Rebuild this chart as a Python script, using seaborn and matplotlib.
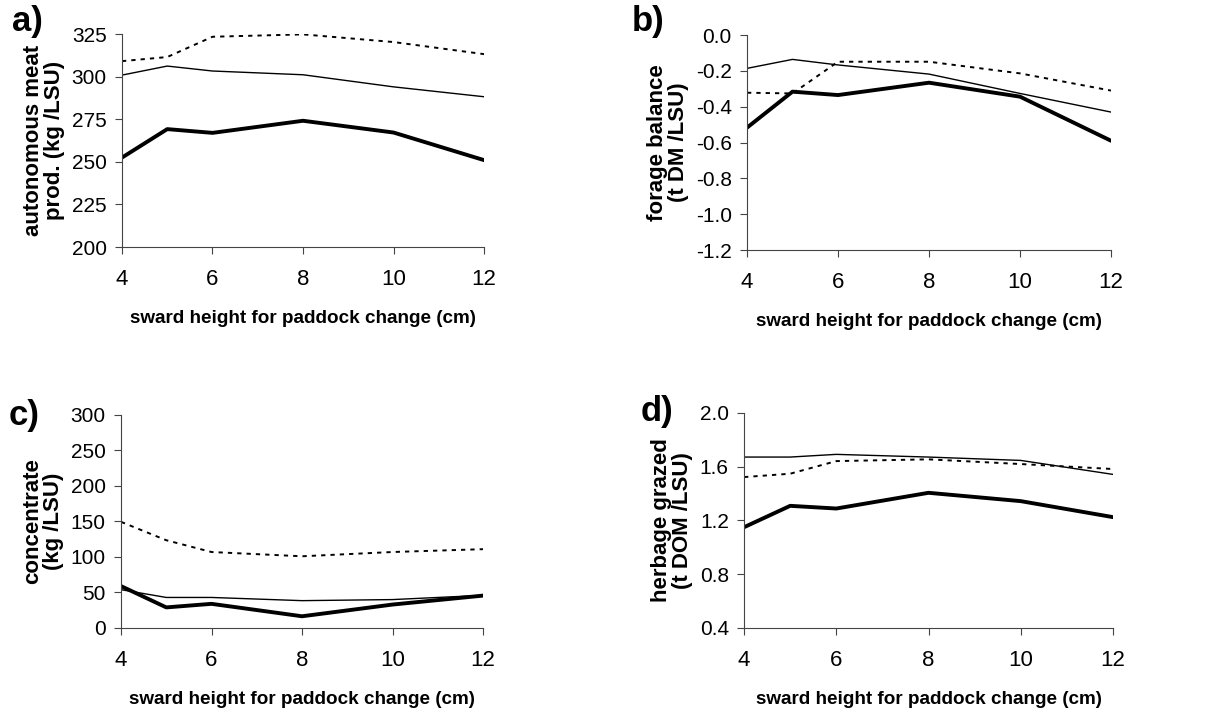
import matplotlib
matplotlib.use('Agg')
import matplotlib.pyplot as plt
import seaborn as sns
import pandas as pd

sns.set_style('ticks')
plt.rcParams['font.family'] = ['Liberation Sans', 'DejaVu Sans']
plt.rcParams['text.color'] = 'black'
plt.rcParams['axes.labelcolor'] = 'black'
plt.rcParams['xtick.labelcolor'] = 'black'
plt.rcParams['ytick.labelcolor'] = 'black'

# --- Data ---
sward_height = [4, 5, 6, 8, 10, 12]

meat_thick = [252.5, 269.2, 267.0, 274.1, 267.2, 251.0]
meat_thin = [300.9, 306.2, 303.3, 301.1, 294.0, 288.2]
meat_dotted = [309.1, 311.5, 323.4, 324.8, 320.3, 313.2]

forage_thick = [-0.517, -0.316, -0.335, -0.266, -0.344, -0.59]
forage_thin = [-0.186, -0.136, -0.167, -0.218, -0.326, -0.43]
forage_dotted = [-0.322, -0.326, -0.149, -0.149, -0.214, -0.31]

conc_thick = [59, 29, 34, 16.5, 33, 45.6]
conc_thin = [54, 43, 43, 38.5, 40, 46]
conc_dotted = [149.5, 123.6, 107, 101, 107, 111]

herb_thick = [1.15, 1.309, 1.289, 1.406, 1.344, 1.225]
herb_thin = [1.672, 1.672, 1.692, 1.672, 1.647, 1.543]
herb_dotted = [1.523, 1.548, 1.642, 1.655, 1.62, 1.583]

x_ticks = [4, 6, 8, 10, 12]
xlabel = 'sward height for paddock change (cm)'

panels = [
    ('a)', 'autonomous meat\nprod. (kg /LSU)', meat_thick, meat_thin, meat_dotted,
     (200, 325), [200, 225, 250, 275, 300, 325], '%d'),
    ('b)', 'forage balance\n(t DM /LSU)', forage_thick, forage_thin, forage_dotted,
     (-1.2, 0.0), [-1.2, -1.0, -0.8, -0.6, -0.4, -0.2, 0.0], '%.1f'),
    ('c)', 'concentrate\n(kg /LSU)', conc_thick, conc_thin, conc_dotted,
     (0, 300), [0, 50, 100, 150, 200, 250, 300], '%d'),
    ('d)', 'herbage grazed\n(t DOM /LSU)', herb_thick, herb_thin, herb_dotted,
     (0.4, 2.0), [0.4, 0.8, 1.2, 1.6, 2.0], '%.1f'),
]

# axes rectangles in figure fractions
rects = [
    [0.0995, 0.6545, 0.2953, 0.2979],
    [0.6093, 0.6503, 0.2969, 0.3007],
    [0.0987, 0.1217, 0.2953, 0.2979],
    [0.6069, 0.1217, 0.3009, 0.3007],
]
# panel letter centres (pixels from top-left)
tag_pos = [(27, 22), (648, 22), (24, 415), (657, 411)]

W, H = 1226, 715
fig = plt.figure(figsize=(W / 100, H / 100), dpi=100)

for rect, tp, (tag, ylabel, thick, thin, dotted, ylim, yticks, fmt) in zip(rects, tag_pos, panels):
    ax = fig.add_axes(rect)
    df = pd.DataFrame({'x': sward_height, 'thick': thick, 'thin': thin, 'dotted': dotted})
    sns.lineplot(data=df, x='x', y='dotted', ax=ax, color='black', lw=1.4,
                 linestyle=(0, (2.2, 2.6)))
    sns.lineplot(data=df, x='x', y='thin', ax=ax, color='black', lw=1.0)
    sns.lineplot(data=df, x='x', y='thick', ax=ax, color='black', lw=2.8)

    ax.set_xlim(4, 12)
    ax.set_ylim(*ylim)
    ax.set_xticks(x_ticks)
    ax.set_yticks(yticks)
    ax.set_yticklabels([fmt % v for v in yticks])
    ax.tick_params(axis='both', length=5, width=0.8, color='#444444')
    ax.tick_params(axis='x', labelsize=16, pad=11)
    ax.tick_params(axis='y', labelsize=15, pad=6)
    for s in ['left', 'bottom']:
        ax.spines[s].set_linewidth(0.8)
        ax.spines[s].set_color('#444444')
    sns.despine(ax=ax)
    ax.set_xlabel(xlabel, fontsize=13.6, fontweight='bold', labelpad=14)
    ax.set_ylabel(ylabel, fontsize=16, fontweight='bold', labelpad=5, linespacing=1.0)

    fig.text(tp[0] / W, 1 - tp[1] / H, tag, fontsize=25,
             fontweight='bold', ha='center', va='center')

plt.savefig('out.png', dpi=100)
